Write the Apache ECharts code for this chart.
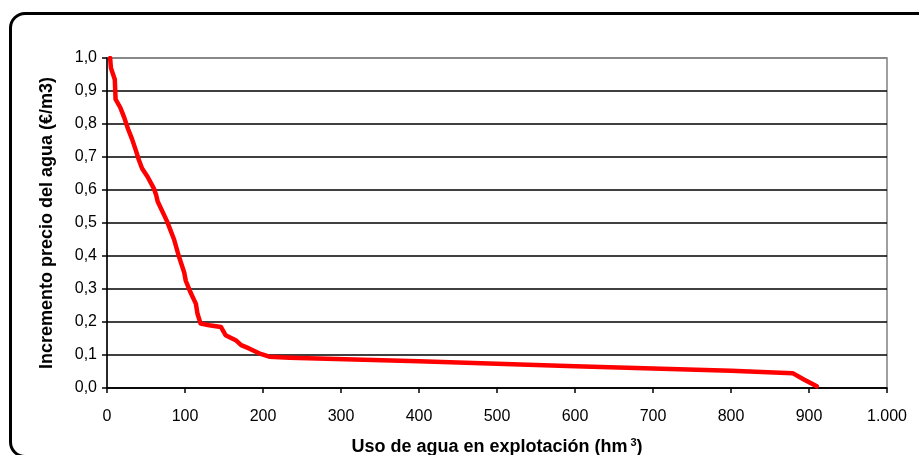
<!DOCTYPE html>
<html>
<head>
<meta charset="utf-8">
<script src="https://cdn.jsdelivr.net/npm/echarts@6/dist/echarts.min.js"></script>
<style>
html,body{margin:0;padding:0;background:#fff;width:919px;height:455px;overflow:hidden;}
#frame{position:absolute;left:9px;top:12px;width:920px;height:440px;border:3px solid #000;border-radius:16px;box-sizing:content-box;}
#chart{position:absolute;left:0;top:0;width:919px;height:455px;}
</style>
</head>
<body>
<div id="frame"></div>
<div id="chart"></div>
<script>
// Data
const waterUse = [4, 5, 10, 11, 17, 22, 27, 32, 37, 41, 45, 52, 60, 63, 65, 77, 86, 92, 99, 101, 107, 114, 116, 120, 131, 146, 152, 165, 172, 182, 195, 208, 234, 400, 600, 800, 879, 894, 910];
const priceIncrease = [1.0, 0.97, 0.935, 0.875, 0.85, 0.82, 0.785, 0.755, 0.72, 0.69, 0.665, 0.64, 0.605, 0.585, 0.565, 0.505, 0.45, 0.4, 0.35, 0.325, 0.29, 0.255, 0.225, 0.195, 0.19, 0.185, 0.16, 0.145, 0.13, 0.12, 0.105, 0.095, 0.092, 0.081, 0.066, 0.052, 0.045, 0.025, 0.005];
const xTitle = 'Uso de agua en explotación (hm';
const yTitle = 'Incremento precio del agua (€/m3)';

const seriesData = waterUse.map((x, i) => [x, priceIncrease[i]]);
const font = '"Liberation Sans", Arial, sans-serif';
const splitColors = ['#000','#000','#000','#000','#000','#000','#000','#000','#000','#000','#808080'];

const chart = echarts.init(document.getElementById('chart'), null, {renderer: 'canvas'});
chart.setOption({
  animation: false,
  backgroundColor: 'transparent',
  grid: {left: 107, top: 58, width: 780, height: 330, show: true, borderColor: '#808080', borderWidth: 1.5, backgroundColor: '#fff',
         containLabel: false, outerBoundsMode: 'none'},
  xAxis: {
    type: 'value', min: 0, max: 1000, interval: 100,
    axisLine: {show: true, onZero: false, lineStyle: {color: '#000', width: 1.5}},
    axisTick: {show: true, inside: false, length: 5, lineStyle: {color: '#000', width: 1.5}},
    splitLine: {show: false},
    axisLabel: {color: '#000', fontFamily: font, fontSize: 16, margin: 21,
      formatter: v => v >= 1000 ? (Math.floor(v/1000) + '.' + String(v%1000).padStart(3,'0')) : String(v)},
    name: '{t|' + xTitle + '}{s|3}{t|)}',
    nameLocation: 'middle', nameGap: 49,
    nameTextStyle: {rich: {
      t: {fontFamily: font, fontSize: 18, fontWeight: 'bold', color: '#000'},
      s: {fontFamily: font, fontSize: 11, fontWeight: 'bold', color: '#000', verticalAlign: 'top', padding: [0, 0, 10, 3]}
    }}
  },
  yAxis: {
    type: 'value', min: 0, max: 1, interval: 0.1,
    axisLine: {show: true, onZero: false, lineStyle: {color: '#000', width: 1.5}},
    axisTick: {show: true, inside: false, length: 5, lineStyle: {color: '#000', width: 1.5}},
    splitLine: {show: true, lineStyle: {color: splitColors, width: 1.5}},
    axisLabel: {color: '#000', fontFamily: font, fontSize: 16, margin: 10,
      formatter: v => v.toFixed(1).replace('.', ',')},
    name: yTitle, nameLocation: 'middle', nameGap: 51, nameRotate: 90,
    nameTextStyle: {fontFamily: font, fontSize: 18, fontWeight: 'bold', color: '#000'}
  },
  series: [{
    type: 'line', data: seriesData, showSymbol: false, symbol: 'none',
    lineStyle: {color: '#ff0000', width: 4.5, join: 'round', cap: 'round'},
    z: 5
  }]
});
</script>
</body>
</html>
